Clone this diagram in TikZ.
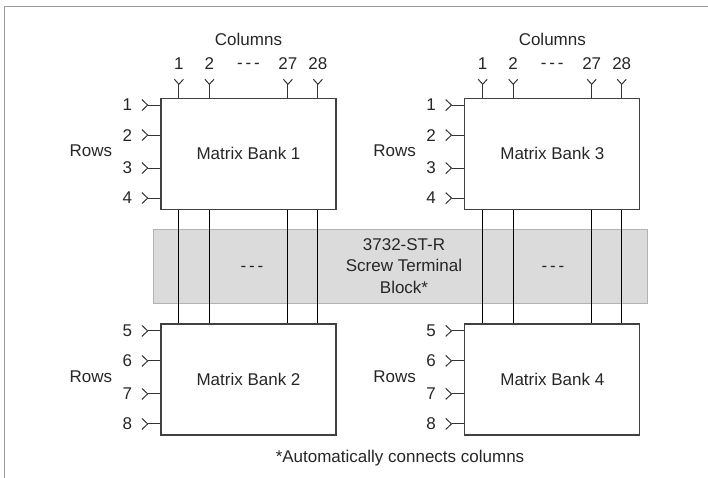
\documentclass[tikz,border=0pt]{standalone}
\usepackage{fontspec}
\setmainfont{Liberation Sans}
\begin{document}
\begin{tikzpicture}[x=1pt,y=-1pt]
	\tikzstyle{txt}=[font=\fontsize{17}{21.5}\selectfont,text=black!85,inner sep=0pt]
	\tikzstyle{bank}=[txt,draw=black!75,line width=1.2pt,minimum width=175pt,minimum height=111pt]
	\tikzstyle{block}=[txt,draw=black!30,fill=black!14,line width=0.8pt,minimum width=494pt,minimum height=74pt]
	\tikzstyle{pin}=[draw=black!80,line width=1pt]
	\tikzstyle{wire}=[draw=black,line width=1pt]

	\useasboundingbox (0,0) rectangle (708,478);
	% frame
	\draw[black!40,line width=1.5pt] (4.5,478) -- (4.5,6.5) -- (708,6.5);

	% screw terminal block
	\node [block] (blk) at (400,266) {};
	\node [txt,align=center] (blktxt) at (404,266) {3732-ST-R\\Screw Terminal\\Block*};
	\node [txt] (dl) at (252,269) {-\,-\,-};
	\node [txt] (dr) at (553,269) {-\,-\,-};

	% matrix banks
	\node [bank] (b1) at (248.5,153.7) {Matrix Bank 1};
	\node [bank] (b2) at (248.5,379.5) {Matrix Bank 2};
	\node [bank] (b3) at (552.3,153.7) {Matrix Bank 3};
	\node [bank] (b4) at (552.3,379.5) {Matrix Bank 4};

	% columns
	\foreach \bk/\bb in {b1/b2,b3/b4}{
		\node [txt] at ([yshift=57.7pt]\bk.north) {Columns};
		\node [txt] at ([yshift=31.3pt]\bk.north) {-\,-\,-};
		\foreach \dx/\num in {18.5/1,49/2,127.5/27,157.5/28}{
			\coordinate (c) at ([xshift=\dx pt]\bk.north west);
			\draw [pin] (c) -- ++(0,-13.3) coordinate (cj);
			\draw [pin] (cj) -- ++(-4.5,-5);
			\draw [pin] (cj) -- ++(4.5,-5);
			\node [txt] at ([yshift=34.3pt]c) {\num};
			\path [wire] ([xshift=\dx pt]\bk.south west) -- ([xshift=\dx pt]\bb.north west);
		}
	}

	% rows
	\foreach \bk/\lo in {b1/1,b2/5,b3/1,b4/5}{
		\node [txt] at ([xshift=-69.5pt,yshift=3pt]\bk.west) {Rows};
		\foreach \dy/\k in {7.5/0,37.5/1,70.5/2,100.5/3}{
			\pgfmathtruncatemacro{\rnum}{\lo+\k}
			\coordinate (r) at ([yshift=-\dy pt]\bk.north west);
			\draw [pin] (r) -- ++(-12.7,0) coordinate (rj);
			\draw [pin] (rj) -- ++(-5.8,-5.5);
			\draw [pin] (rj) -- ++(-5.8,5.5);
			\node [txt] at ([xshift=-33pt]r) {\rnum};
		}
	}

	% footnote
	\node [txt] (note) at (400,458) {*Automatically connects columns};

\end{tikzpicture}
\end{document}
